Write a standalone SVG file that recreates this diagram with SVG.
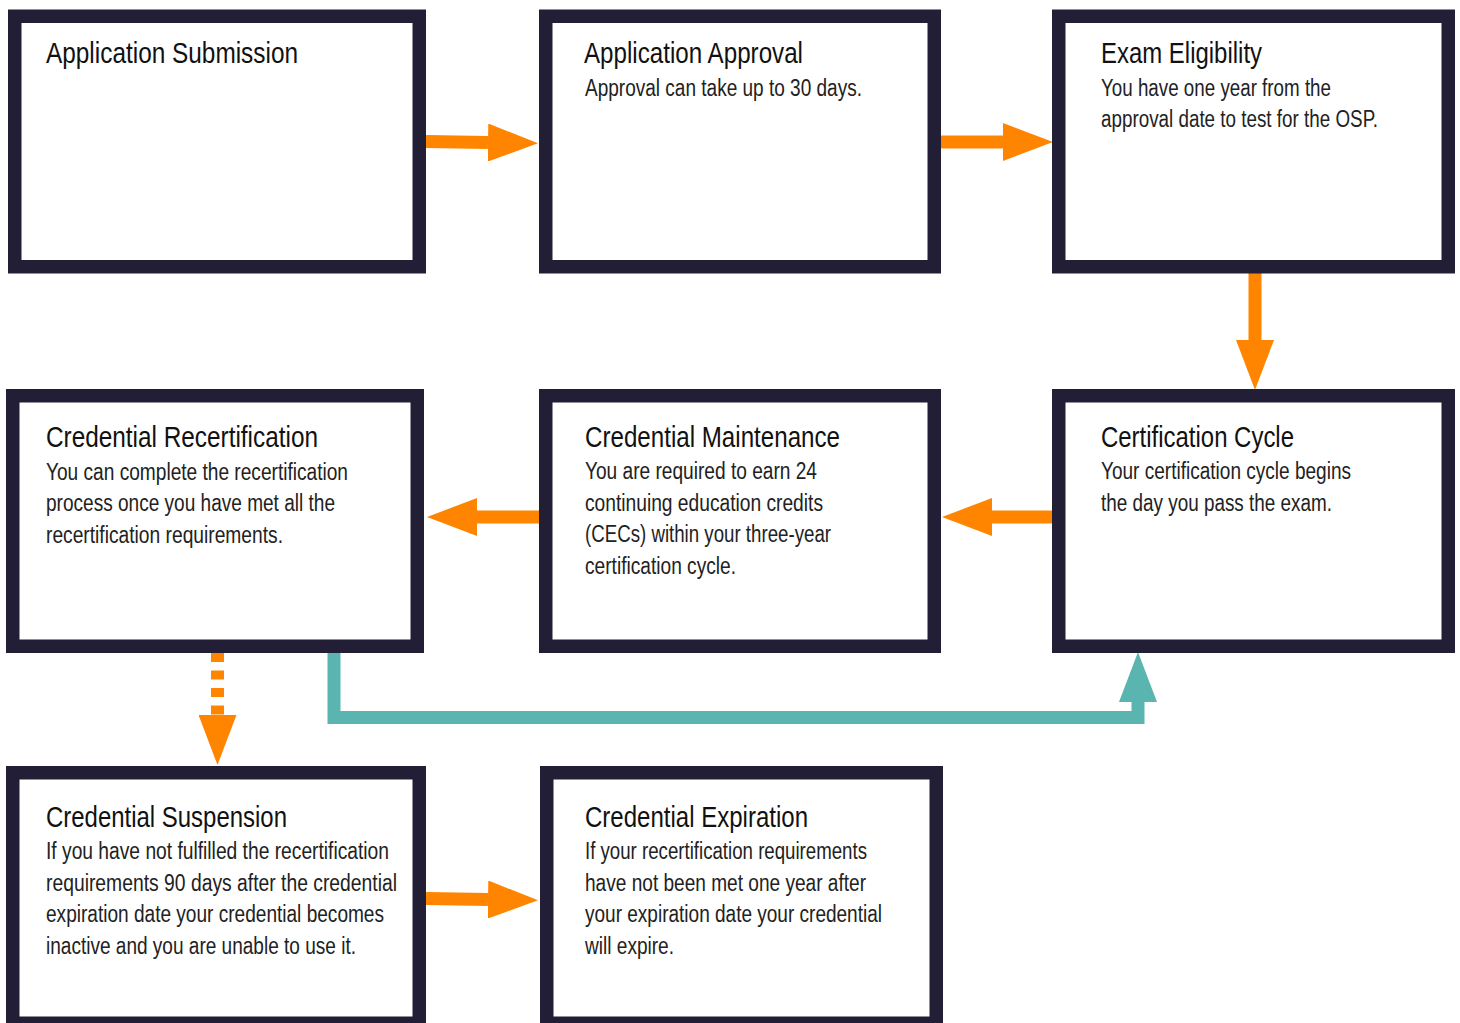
<svg xmlns="http://www.w3.org/2000/svg" width="1460" height="1023" viewBox="0 0 1460 1023">
<style>
.box{fill:#ffffff;stroke:#221e35;stroke-width:13.5}
.t{font-family:"Liberation Sans",Arial,sans-serif;font-size:29px;fill:#111111}
.b{font-family:"Liberation Sans",Arial,sans-serif;font-size:23.5px;fill:#222222}
.or{fill:none;stroke:#ff8500;stroke-width:13}
.tl{fill:none;stroke:#5ab5b0;stroke-width:13;stroke-linejoin:miter}
</style>
<defs>
<marker id="ho" markerUnits="userSpaceOnUse" viewBox="0 0 50 38" markerWidth="50" markerHeight="38" refX="0" refY="19" orient="auto"><path d="M0,0 L50,19 L0,38 Z" fill="#ff8500"/></marker>
<marker id="ht" markerUnits="userSpaceOnUse" viewBox="0 0 50 38" markerWidth="50" markerHeight="38" refX="0" refY="19" orient="auto"><path d="M0,0 L50,19 L0,38 Z" fill="#5ab5b0"/></marker>
</defs>
<rect width="1460" height="1023" fill="#ffffff"/>
<g id="connectors">
<path class="or" d="M426,141.5 L488,142.5" marker-end="url(#ho)"/>
<path class="or" d="M941,142 L1003,142" marker-end="url(#ho)"/>
<path class="or" d="M1255,273 L1255,340" marker-end="url(#ho)"/>
<path class="or" d="M1052,517 L992,517" marker-end="url(#ho)"/>
<path class="or" d="M539,517 L477,517" marker-end="url(#ho)"/>
<path class="or" d="M217.5,653 L217.5,715" stroke-dasharray="9 8.5" marker-end="url(#ho)"/>
<path class="or" d="M426,898.5 L488,899.5" marker-end="url(#ho)"/>
<path class="tl" d="M334,653 L334,717.5 L1138,717.5 L1138,702" marker-end="url(#ht)"/>
</g>
<g id="node-submission">
<rect class="box" x="14.75" y="16.25" width="404.5" height="250.5"/>
<text class="t" x="46" y="63" textLength="252" lengthAdjust="spacingAndGlyphs">Application Submission</text>
</g>
<g id="node-approval">
<rect class="box" x="545.75" y="16.25" width="388.5" height="250.5"/>
<text class="t" x="584" y="63" textLength="219" lengthAdjust="spacingAndGlyphs">Application Approval</text>
<text class="b" x="585" y="96" textLength="277" lengthAdjust="spacingAndGlyphs">Approval can take up to 30 days.</text>
</g>
<g id="node-eligibility">
<rect class="box" x="1058.75" y="16.25" width="389.5" height="250.5"/>
<text class="t" x="1101" y="62.5" textLength="161" lengthAdjust="spacingAndGlyphs">Exam Eligibility</text>
<text class="b" x="1101" y="95.5" textLength="230" lengthAdjust="spacingAndGlyphs">You have one year from the</text>
<text class="b" x="1101" y="127" textLength="277" lengthAdjust="spacingAndGlyphs">approval date to test for the OSP.</text>
</g>
<g id="node-recertification">
<rect class="box" x="12.75" y="395.75" width="404.5" height="250.5"/>
<text class="t" x="46" y="447" textLength="272" lengthAdjust="spacingAndGlyphs">Credential Recertification</text>
<text class="b" x="46" y="479.5" textLength="302" lengthAdjust="spacingAndGlyphs">You can complete the recertification</text>
<text class="b" x="46" y="511.3" textLength="289" lengthAdjust="spacingAndGlyphs">process once you have met all the</text>
<text class="b" x="46" y="543" textLength="237" lengthAdjust="spacingAndGlyphs">recertification requirements.</text>
</g>
<g id="node-maintenance">
<rect class="box" x="545.75" y="395.75" width="388.5" height="250.5"/>
<text class="t" x="585" y="447" textLength="255" lengthAdjust="spacingAndGlyphs">Credential Maintenance</text>
<text class="b" x="585" y="479" textLength="232" lengthAdjust="spacingAndGlyphs">You are required to earn 24</text>
<text class="b" x="585" y="510.7" textLength="238" lengthAdjust="spacingAndGlyphs">continuing education credits</text>
<text class="b" x="585" y="542.3" textLength="246" lengthAdjust="spacingAndGlyphs">(CECs) within your three-year</text>
<text class="b" x="585" y="574" textLength="151" lengthAdjust="spacingAndGlyphs">certification cycle.</text>
</g>
<g id="node-cycle">
<rect class="box" x="1058.75" y="395.75" width="389.5" height="250.5"/>
<text class="t" x="1101" y="447" textLength="193" lengthAdjust="spacingAndGlyphs">Certification Cycle</text>
<text class="b" x="1101" y="479" textLength="250" lengthAdjust="spacingAndGlyphs">Your certification cycle begins</text>
<text class="b" x="1101" y="510.7" textLength="231" lengthAdjust="spacingAndGlyphs">the day you pass the exam.</text>
</g>
<g id="node-suspension">
<rect class="box" x="12.75" y="772.75" width="406.5" height="250.5"/>
<text class="t" x="46" y="827" textLength="241" lengthAdjust="spacingAndGlyphs">Credential Suspension</text>
<text class="b" x="46" y="859" textLength="343" lengthAdjust="spacingAndGlyphs">If you have not fulfilled the recertification</text>
<text class="b" x="46" y="890.7" textLength="351" lengthAdjust="spacingAndGlyphs">requirements 90 days after the credential</text>
<text class="b" x="46" y="922.3" textLength="338" lengthAdjust="spacingAndGlyphs">expiration date your credential becomes</text>
<text class="b" x="46" y="954" textLength="310" lengthAdjust="spacingAndGlyphs">inactive and you are unable to use it.</text>
</g>
<g id="node-expiration">
<rect class="box" x="546.75" y="772.75" width="389.5" height="250.5"/>
<text class="t" x="585" y="827" textLength="223" lengthAdjust="spacingAndGlyphs">Credential Expiration</text>
<text class="b" x="585" y="859" textLength="282" lengthAdjust="spacingAndGlyphs">If your recertification requirements</text>
<text class="b" x="585" y="890.7" textLength="281" lengthAdjust="spacingAndGlyphs">have not been met one year after</text>
<text class="b" x="585" y="922.3" textLength="297" lengthAdjust="spacingAndGlyphs">your expiration date your credential</text>
<text class="b" x="585" y="954" textLength="89" lengthAdjust="spacingAndGlyphs">will expire.</text>
</g>
</svg>
